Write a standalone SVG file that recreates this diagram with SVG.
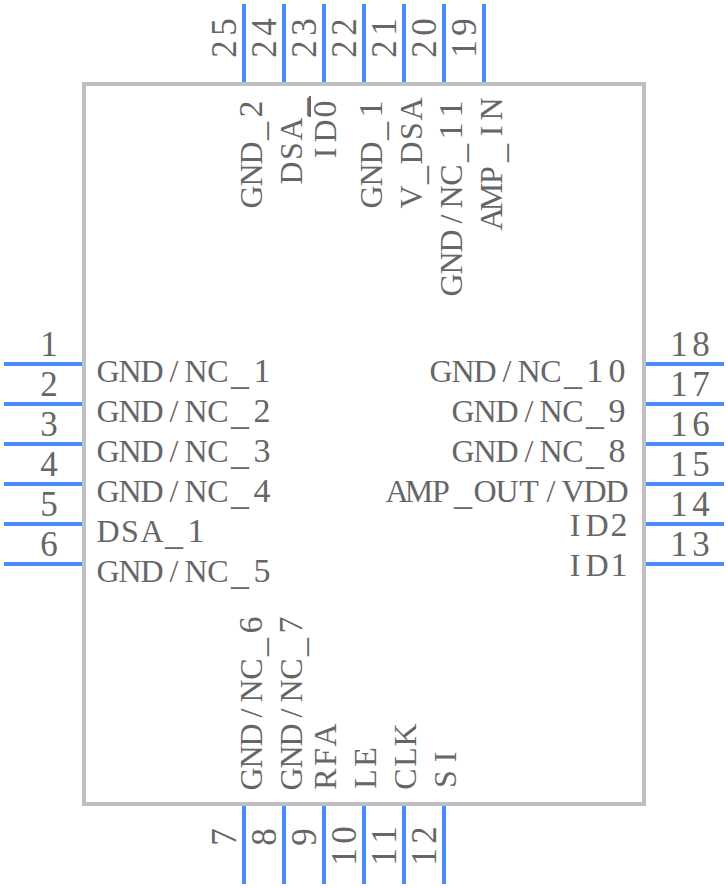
<svg xmlns="http://www.w3.org/2000/svg" width="728" height="888" viewBox="0 0 728 888">
<style>
.b{fill:none;stroke:#bfbfbf;stroke-width:4}
.p{stroke:#4a8cff;stroke-width:4;fill:none}
.o{stroke:#666;stroke-width:2;fill:none}
text{font-family:"Liberation Serif","Times New Roman",serif;font-size:32px;fill:#666;text-anchor:middle}
.u{font-size:36px}
.n,.n tspan{font-size:35px}
.d{font-size:34px}
</style>
<rect width="728" height="888" fill="#fff"/>
<g id="pins">
<path class="p" d="M4 364H84M4 404H84M4 444H84M4 484H84M4 524H84M4 564H84M644 364H724M644 404H724M644 444H724M644 484H724M644 524H724M644 564H724M244 4V84M284 4V84M324 4V84M364 4V84M404 4V84M444 4V84M484 4V84M244 804V884M284 804V884M324 804V884M364 804V884M404 804V884M444 804V884"/>
</g>
<g id="body"><rect class="b" x="84" y="84" width="560" height="720"/></g>
<g id="left-labels">
<text class="n" x="49" y="356">1</text><text class="n" x="49" y="396">2</text><text class="n" x="49" y="436">3</text><text class="n" x="49" y="476">4</text><text class="n" x="49" y="516">5</text><text class="n" x="49" y="556">6</text>
<text transform="translate(97,382)" x="11 33 55 77 99 121 143 165">GND/NC<tspan class="u" dy="2">_</tspan><tspan class="d" dy="-2">1</tspan></text>
<text transform="translate(97,422)" x="11 33 55 77 99 121 143 165">GND/NC<tspan class="u" dy="2">_</tspan><tspan class="d" dy="-2">2</tspan></text>
<text transform="translate(97,462)" x="11 33 55 77 99 121 143 165">GND/NC<tspan class="u" dy="2">_</tspan><tspan class="d" dy="-2">3</tspan></text>
<text transform="translate(97,502)" x="11 33 55 77 99 121 143 165">GND/NC<tspan class="u" dy="2">_</tspan><tspan class="d" dy="-2">4</tspan></text>
<text transform="translate(97,542)" x="11 33 55 77 99">DSA<tspan class="u" dy="2">_</tspan><tspan class="d" dy="-2">1</tspan></text>
<text transform="translate(97,582)" x="11 33 55 77 99 121 143 165">GND/NC<tspan class="u" dy="2">_</tspan><tspan class="d" dy="-2">5</tspan></text>
</g>
<g id="right-labels">
<text class="n" transform="translate(668,356)" x="11 33">18</text><text class="n" transform="translate(668,396)" x="11 33">17</text><text class="n" transform="translate(668,436)" x="11 33">16</text><text class="n" transform="translate(668,476)" x="11 33">15</text><text class="n" transform="translate(668,516)" x="11 33">14</text><text class="n" transform="translate(668,556)" x="11 33">13</text>
<text transform="translate(430,382)" x="11 33 55 77 99 121 143 165 187">GND/NC<tspan class="u" dy="2">_</tspan><tspan class="d" dy="-2">10</tspan></text>
<text transform="translate(452,422)" x="11 33 55 77 99 121 143 165">GND/NC<tspan class="u" dy="2">_</tspan><tspan class="d" dy="-2">9</tspan></text>
<text transform="translate(452,462)" x="11 33 55 77 99 121 143 165">GND/NC<tspan class="u" dy="2">_</tspan><tspan class="d" dy="-2">8</tspan></text>
<text transform="translate(386,502)" x="11 33 55 77 99 121 143 165 187 209 231">AMP<tspan class="u" dy="2">_</tspan><tspan dy="-2">OUT/VDD</tspan></text>
<text transform="translate(564,536)" x="11 33 55">ID<tspan class="d">2</tspan></text><text transform="translate(564,576)" x="11 33 55">ID<tspan class="d">1</tspan></text>
</g>
<g id="top-labels">
<text class="n" transform="translate(236,60) rotate(-90)" x="11 33">25</text><text class="n" transform="translate(276,60) rotate(-90)" x="11 33">24</text><text class="n" transform="translate(316,60) rotate(-90)" x="11 33">23</text><text class="n" transform="translate(356,60) rotate(-90)" x="11 33">22</text><text class="n" transform="translate(396,60) rotate(-90)" x="11 33">21</text><text class="n" transform="translate(436,60) rotate(-90)" x="11 33">20</text><text class="n" transform="translate(476,60) rotate(-90)" x="11 33">19</text>
<text transform="translate(262,208) rotate(-90)" x="11 33 55 77 99">GND<tspan class="u" dy="2">_</tspan><tspan class="d" dy="-2">2</tspan></text>
<text transform="translate(302,184) rotate(-90)" x="11 33 55 77">DSA<tspan class="u" dy="2">_</tspan></text>
<text transform="translate(336,164) rotate(-90)" x="11 33 55">ID<tspan class="d">0</tspan></text><path class="o" d="M310 96V117"/>
<text transform="translate(382,208) rotate(-90)" x="11 33 55 77 99">GND<tspan class="u" dy="2">_</tspan><tspan class="d" dy="-2">1</tspan></text>
<text transform="translate(422,208) rotate(-90)" x="11 33 55 77 99">V<tspan class="u" dy="2">_</tspan><tspan dy="-2">DSA</tspan></text>
<text transform="translate(462,296) rotate(-90)" x="11 33 55 77 99 121 143 165 187">GND/NC<tspan class="u" dy="2">_</tspan><tspan class="d" dy="-2">11</tspan></text>
<text transform="translate(502,230) rotate(-90)" x="11 33 55 77 99 121">AMP<tspan class="u" dy="2">_</tspan><tspan dy="-2">IN</tspan></text>
</g>
<g id="bottom-labels">
<text class="n" transform="translate(236,848) rotate(-90)" x="11">7</text><text class="n" transform="translate(276,848) rotate(-90)" x="11">8</text><text class="n" transform="translate(316,848) rotate(-90)" x="11">9</text><text class="n" transform="translate(356,868) rotate(-90)" x="11 33">10</text><text class="n" transform="translate(396,868) rotate(-90)" x="11 33">11</text><text class="n" transform="translate(436,868) rotate(-90)" x="11 33">12</text>
<text transform="translate(262,790) rotate(-90)" x="11 33 55 77 99 121 143 165">GND/NC<tspan class="u" dy="2">_</tspan><tspan class="d" dy="-2">6</tspan></text>
<text transform="translate(302,790) rotate(-90)" x="11 33 55 77 99 121 143 165">GND/NC<tspan class="u" dy="2">_</tspan><tspan class="d" dy="-2">7</tspan></text>
<text transform="translate(336,790) rotate(-90)" x="11 33 55">RFA</text><text transform="translate(376,790) rotate(-90)" x="11 33">LE</text><text transform="translate(416,790) rotate(-90)" x="11 33 55">CLK</text><text transform="translate(456,790) rotate(-90)" x="11 33">SI</text>
</g>
</svg>
